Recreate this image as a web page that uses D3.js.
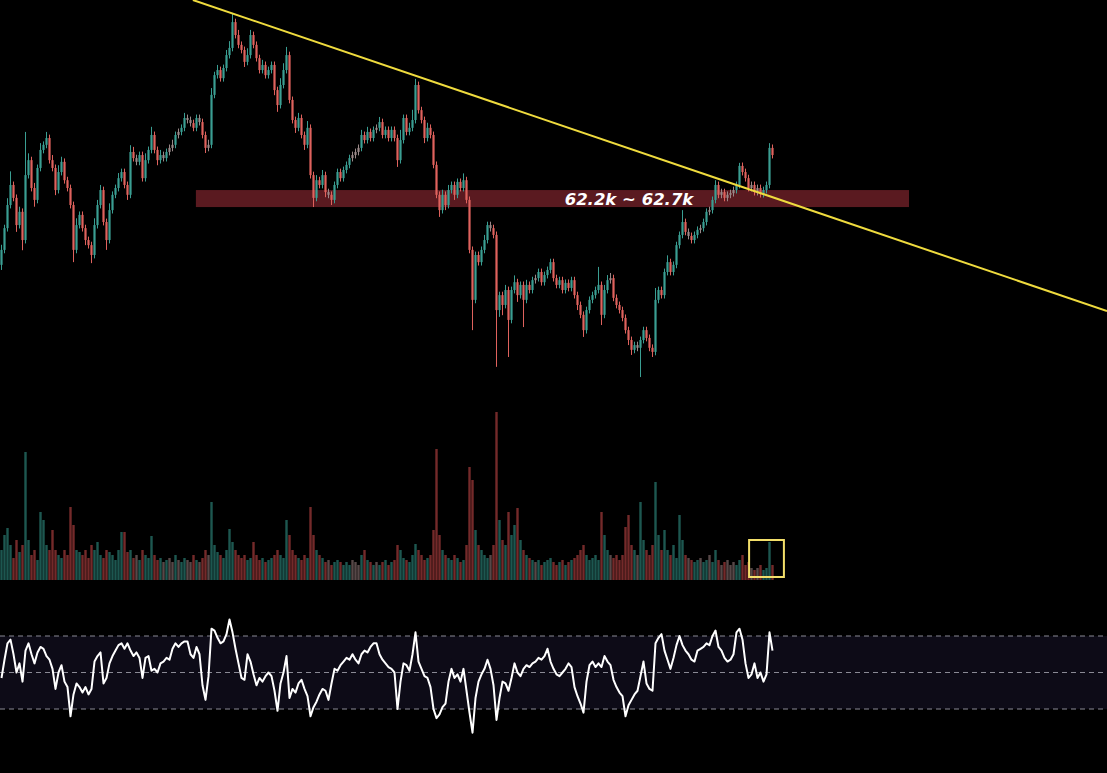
<!DOCTYPE html>
<html><head><meta charset="utf-8">
<script src="https://cdn.jsdelivr.net/npm/d3@7/dist/d3.min.js"></script>
<style>html,body{margin:0;padding:0;background:#000;overflow:hidden}</style>
</head><body>
<svg id="c" width="1107" height="773"></svg>
<script>
// ---- data (prices in k USD) ----
const firstOpen = 60.5;
const closes = [60.94,61.58,62.26,62.85,62.47,61.67,62.06,61.23,63.14,63.58,
62.76,62.41,63.35,63.88,64.03,64.23,63.58,63.35,62.70,63.23,
63.53,62.99,62.76,62.26,60.94,61.67,61.97,61.58,61.23,61.08,
60.79,61.67,62.26,62.70,61.76,61.23,62.11,62.56,62.76,63.05,
63.23,62.85,62.56,63.82,63.64,63.53,63.73,63.05,63.58,63.88,
64.32,63.88,63.58,63.73,63.64,63.82,63.94,64.03,64.32,64.41,
64.53,64.82,64.76,64.67,64.53,64.82,64.70,64.32,63.94,64.03,
65.50,66.08,66.23,65.99,66.29,66.67,66.88,67.64,67.26,66.97,
66.82,66.47,66.67,67.26,66.97,66.58,66.23,66.38,66.08,66.23,
66.38,65.64,65.20,65.79,66.23,66.67,65.35,64.76,64.53,64.82,
64.32,64.03,64.53,63.14,62.47,62.99,62.85,63.14,62.64,62.56,
62.41,62.85,63.23,63.05,63.29,63.44,63.64,63.73,63.82,63.94,
64.32,64.17,64.41,64.23,64.47,64.53,64.70,64.32,64.47,64.23,
64.47,64.23,63.58,64.17,64.82,64.41,64.53,64.76,65.79,65.05,
64.76,64.23,64.53,64.32,63.44,62.56,62.11,62.56,62.26,62.70,
62.85,62.56,62.94,62.76,62.99,62.41,60.94,59.47,60.79,60.58,
60.94,61.23,61.67,61.58,61.38,59.17,59.61,59.32,59.76,58.88,
59.76,59.99,59.61,59.91,59.47,59.91,59.76,60.05,60.11,60.29,
59.99,60.20,60.35,60.58,60.11,59.91,60.05,59.76,59.97,59.82,
60.05,59.61,59.32,59.03,58.58,59.17,59.47,59.61,59.76,59.91,
59.03,59.76,60.05,60.11,59.53,59.32,59.17,58.94,58.58,58.29,
58.00,58.14,58.06,58.29,58.58,58.35,58.06,57.94,59.47,59.76,
59.61,60.29,60.58,60.29,60.50,61.08,61.38,61.76,61.47,61.35,
61.23,61.38,61.53,61.58,61.76,62.06,62.11,62.41,62.85,62.56,
62.64,62.47,62.56,62.61,62.70,62.85,63.41,63.23,63.05,62.76,
62.85,62.64,62.76,62.58,62.70,62.85,63.94,63.73];
const wickHi = [0.15,0.1,0.2,0.4,0.1,0.1,0.15,0.1,1.27,0.2,
0.1,0.15,0.1,0.2,0.1,0.18,0.1,0.15,0.1,0.2,
0.15,0.1,0.1,0.1,0.1,0.2,0.1,0.1,0.1,0.1,
0.1,0.2,0.15,0.15,0.1,0.1,0.2,0.1,0.1,0.15,
0.1,0.1,0.1,0.2,0.15,0.1,0.1,0.1,0.2,0.1,
0.24,0.1,0.1,0.15,0.1,0.1,0.1,0.15,0.1,0.1,
0.1,0.15,0.1,0.1,0.1,0.1,0.1,0.1,0.1,0.15,
0.2,0.1,0.15,0.1,0.1,0.15,0.2,0.27,0.1,0.15,
0.1,0.1,0.2,0.15,0.1,0.1,0.1,0.15,0.1,0.1,
0.1,0.1,0.1,0.2,0.2,0.24,0.1,0.1,0.1,0.15,
0.1,0.1,0.2,0.1,0.1,0.15,0.1,0.15,0.1,0.1,
0.1,0.1,0.1,0.1,0.1,0.1,0.1,0.1,0.1,0.1,
0.15,0.1,0.15,0.1,0.1,0.1,0.15,0.1,0.1,0.1,
0.1,0.1,0.1,0.3,0.1,0.1,0.15,0.3,0.18,0.1,
0.1,0.1,0.15,0.1,0.1,0.1,0.1,0.15,0.1,0.15,
0.1,0.1,0.1,0.1,0.2,0.1,0.1,0.1,0.1,0.1,
0.1,0.15,0.1,0.1,0.1,0.1,0.1,0.1,0.15,0.1,
0.1,0.2,0.1,0.1,0.1,0.15,0.1,0.1,0.1,0.1,
0.1,0.1,0.1,0.1,0.1,0.1,0.1,0.1,0.1,0.1,
0.1,0.1,0.1,0.1,0.1,0.1,0.1,0.1,0.1,0.53,
0.1,0.15,0.15,0.15,0.1,0.1,0.1,0.1,0.1,0.1,
0.1,0.1,0.1,0.1,0.1,0.1,0.1,0.1,0.35,0.1,
0.1,0.1,0.2,0.1,0.1,0.1,0.1,0.35,0.1,0.1,
0.1,0.1,0.1,0.1,0.1,0.1,0.1,0.1,0.14,0.1,
0.1,0.1,0.1,0.1,0.1,0.1,0.09,0.1,0.1,0.1,
0.1,0.1,0.1,0.1,0.1,0.1,0.14,0.1];
const wickLo = [0.15,0.1,0.1,0.1,0.1,0.2,0.1,0.3,0.1,0.1,
0.1,0.2,0.1,0.1,0.1,0.1,0.1,0.1,0.15,0.1,
0.1,0.1,0.1,0.1,0.36,0.1,0.1,0.1,0.15,0.1,
0.24,0.1,0.1,0.1,0.1,0.29,0.1,0.1,0.1,0.1,
0.1,0.1,0.15,0.1,0.1,0.1,0.1,0.1,0.1,0.1,
0.1,0.1,0.15,0.1,0.1,0.1,0.1,0.1,0.1,0.1,
0.1,0.1,0.1,0.1,0.1,0.1,0.1,0.1,0.15,0.1,
0.1,0.1,0.1,0.1,0.1,0.1,0.1,0.1,0.1,0.1,
0.1,0.15,0.1,0.1,0.1,0.1,0.1,0.1,0.1,0.1,
0.1,0.15,0.2,0.1,0.1,0.1,0.1,0.1,0.15,0.1,
0.1,0.15,0.1,0.1,0.27,0.1,0.1,0.1,0.15,0.1,
0.15,0.1,0.1,0.1,0.1,0.1,0.1,0.1,0.1,0.1,
0.1,0.1,0.1,0.1,0.1,0.1,0.1,0.1,0.1,0.1,
0.1,0.1,0.2,0.1,0.1,0.1,0.1,0.1,0.1,0.1,
0.1,0.15,0.1,0.1,0.1,0.1,0.2,0.1,0.15,0.1,
0.1,0.15,0.1,0.1,0.1,0.1,0.1,0.89,0.1,0.1,
0.1,0.1,0.1,0.1,0.1,1.67,0.2,0.3,0.1,1.09,
0.1,0.1,0.2,0.1,0.8,0.1,0.1,0.1,0.1,0.1,
0.1,0.1,0.1,0.1,0.1,0.1,0.1,0.1,0.1,0.1,
0.1,0.1,0.15,0.1,0.2,0.1,0.1,0.1,0.1,0.1,
0.3,0.1,0.1,0.1,0.1,0.1,0.1,0.1,0.1,0.15,
0.15,0.1,0.1,0.86,0.1,0.1,0.1,0.15,0.1,0.1,
0.1,0.1,0.1,0.1,0.1,0.1,0.1,0.1,0.1,0.1,
0.1,0.1,0.1,0.1,0.1,0.1,0.1,0.1,0.1,0.1,
0.1,0.1,0.1,0.1,0.1,0.1,0.1,0.1,0.1,0.1,
0.1,0.1,0.1,0.1,0.1,0.1,0.1,0.1];
const volumes = [30,45,52,35,22,40,28,35,128,40,
25,30,20,68,60,35,30,50,30,25,
22,30,25,73,55,30,28,25,30,22,
35,30,38,25,22,30,28,25,20,30,
48,48,28,30,22,25,20,30,25,22,
44,25,20,22,18,20,22,18,25,20,
18,22,20,18,25,20,18,22,30,25,
78,35,28,25,22,30,51,38,30,25,
22,25,20,22,38,25,20,22,18,20,
22,25,30,25,22,60,45,30,25,22,
20,25,22,73,45,30,25,22,18,20,
15,18,20,18,15,18,15,20,18,15,
25,30,20,18,15,18,15,18,20,15,
18,20,35,30,22,20,18,25,36,30,
25,20,22,25,50,131,45,30,25,22,
20,25,22,18,20,35,113,100,50,35,
30,25,22,25,35,168,60,40,35,68,
45,55,72,40,30,25,22,20,18,20,
15,18,20,22,18,15,18,20,15,18,
20,22,25,30,35,25,20,22,25,20,
68,45,30,25,22,25,20,25,53,65,
35,30,25,78,40,30,25,35,98,45,
30,50,30,25,35,22,65,40,25,22,
20,18,20,22,18,20,25,18,30,20,
15,18,20,15,18,15,20,25,15,18,
12,10,12,15,10,12,38,15];
const rsi = [47,57,66,68,60,50,55,45,62,66,
60,55,61,64,63,59,57,52,41,50,
54,45,42,26,38,44,42,39,42,38,
41,56,59,61,44,47,55,59,62,65,
66,63,66,62,59,61,58,47,58,59,
51,52,50,55,56,58,57,63,66,64,
66,67,67,60,58,64,60,43,35,48,
74,73,69,66,67,71,79,72,63,55,
47,46,60,56,49,43,47,45,48,50,
48,40,29,44,50,59,36,41,39,44,
46,41,37,26,31,34,38,41,40,35,
44,52,51,54,56,58,57,60,57,55,
60,62,61,64,66,66,60,57,55,53,
52,50,30,45,55,54,51,60,72,56,
52,48,47,42,30,25,27,31,33,45,
52,47,49,45,52,40,28,17,36,45,
49,52,57,52,43,24,36,45,44,40,
47,55,50,48,52,54,53,55,56,58,
57,59,63,56,52,49,48,50,52,55,
53,42,37,33,28,45,54,56,53,55,
53,59,56,54,46,42,39,37,26,32,
35,38,40,48,56,44,41,40,66,69,
71,62,57,52,58,65,70,65,62,60,
57,56,62,63,64,66,65,70,73,64,
62,58,56,57,60,72,74,68,55,47,
49,55,47,50,45,49,72,62];
const rsiLevels = [70, 50, 30];
const zoneLow = 62.2, zoneHigh = 62.7;
const zoneFrom = 64.8, zoneTo = 302.5;         // bar index span of the zone
const zoneLabel = "62.2k ~ 62.7k";
const trendline = [[63.8, 68.29], [368.5, 59.14]]; // [bar index, price]
const volBox = {from: 249.2, to: 260.8, low: 3, high: 40};

// ---- build ----
const n = closes.length;
const bars = closes.map((c, i) => {
  const o = i === 0 ? firstOpen : closes[i - 1];
  return {i, o, c, h: Math.max(o, c) + wickHi[i], l: Math.min(o, c) - wickLo[i], v: volumes[i]};
});
const col = d => Math.abs(d.c - d.o) < 0.12 ? "gray" : (d.c > d.o ? "up" : "down");
const candleCol = {up: "#3a9e92", down: "#df625d", gray: "#9a8888"};
const volCol = {up: "#1d5750", down: "#742a2a", gray: "#574848"};

const W = 1107, H = 773;
const svg = d3.select("#c");
svg.append("rect").attr("width", W).attr("height", H).attr("fill", "#000");

const x = d3.scaleLinear().domain([0, n - 1]).range([1.5, 772.5]);
const y = d3.scaleLinear().domain([56.525, 68.29]).range([400, 0]);
const yv = d3.scaleLinear().domain([0, 168]).range([580, 412]);
const yr = d3.scaleLinear().domain([30, 70]).range([709, 636]);

// zone
svg.append("rect")
  .attr("x", x(zoneFrom)).attr("width", x(zoneTo) - x(zoneFrom))
  .attr("y", y(zoneHigh)).attr("height", y(zoneLow) - y(zoneHigh))
  .attr("fill", "#5a1a20");

// candles
const g = svg.append("g");
g.selectAll("line.w").data(bars).join("line")
  .attr("x1", d => x(d.i)).attr("x2", d => x(d.i))
  .attr("y1", d => y(d.h)).attr("y2", d => y(d.l))
  .attr("stroke", d => candleCol[col(d)]).attr("stroke-width", 1);
g.selectAll("rect.b").data(bars).join("rect")
  .attr("x", d => x(d.i) - 1.1).attr("width", 2.2)
  .attr("y", d => y(Math.max(d.o, d.c)))
  .attr("height", d => Math.max(1, Math.abs(y(d.o) - y(d.c))))
  .attr("fill", d => candleCol[col(d)]);

// zone label
svg.append("text").attr("x", 629).attr("y", y((zoneLow + zoneHigh) / 2) + 6)
  .attr("text-anchor", "middle").attr("fill", "#fff")
  .attr("font-family", "DejaVu Sans, sans-serif").attr("font-weight", "bold")
  .attr("font-style", "italic").attr("font-size", 16.5).text(zoneLabel);

// trendline
svg.append("line")
  .attr("x1", x(trendline[0][0])).attr("y1", y(trendline[0][1]))
  .attr("x2", x(trendline[1][0])).attr("y2", y(trendline[1][1]))
  .attr("stroke", "#efdb3e").attr("stroke-width", 2);

// volume
svg.append("g").selectAll("rect").data(bars).join("rect")
  .attr("x", d => x(d.i) - 1.2).attr("width", 2.4)
  .attr("y", d => yv(d.v)).attr("height", d => yv(0) - yv(d.v))
  .attr("fill", d => volCol[col(d)]);
svg.append("rect")
  .attr("x", x(volBox.from)).attr("width", x(volBox.to) - x(volBox.from))
  .attr("y", yv(volBox.high)).attr("height", yv(volBox.low) - yv(volBox.high))
  .attr("fill", "none").attr("stroke", "#f3df6a").attr("stroke-width", 2);

// RSI
svg.append("rect").attr("x", 0).attr("width", W)
  .attr("y", yr(70)).attr("height", yr(30) - yr(70)).attr("fill", "#0d0b17");
svg.append("g").selectAll("line").data(rsiLevels).join("line")
  .attr("x1", 0).attr("x2", W).attr("y1", d => yr(d)).attr("y2", d => yr(d))
  .attr("stroke", "#8a8a95").attr("stroke-width", 1).attr("stroke-dasharray", "5,4");
svg.append("path").datum(rsi)
  .attr("d", d3.line().x((d, i) => x(i)).y(d => yr(d)))
  .attr("fill", "none").attr("stroke", "#fff").attr("stroke-width", 2)
  .attr("stroke-linejoin", "round");
</script>
</body></html>
